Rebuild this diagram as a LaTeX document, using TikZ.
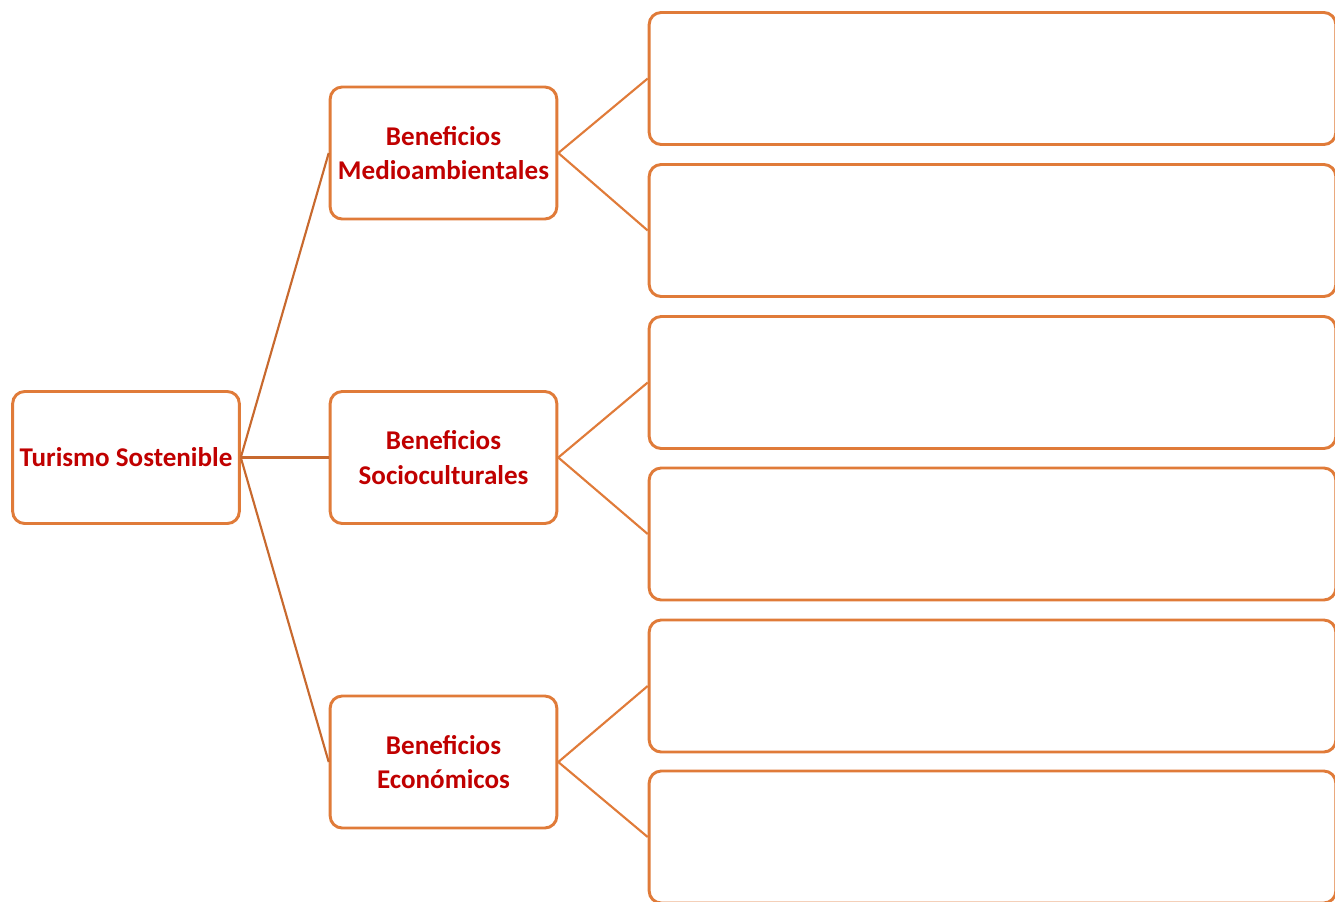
\documentclass[tikz,border=0pt]{standalone}
\usepackage{fontspec}
\setmainfont{Carlito}
\usepackage{tikz}
\usetikzlibrary{positioning}

\definecolor{boxorange}{HTML}{E07B39}
\definecolor{linkbrown}{HTML}{C8692E}
\definecolor{labelred}{HTML}{C00000}

\tikzset{
  benefitbox/.style={draw=boxorange,line width=2.2pt,rounded corners=9pt,fill=white,
    minimum width=170pt,minimum height=99pt,align=center,text=labelred,
    font=\fontsize{20.3}{26}\selectfont\bfseries,inner sep=1pt},
  detailbox/.style={draw=boxorange,line width=2.2pt,rounded corners=9pt,fill=white,
    minimum width=515pt,minimum height=99pt},
  link/.style={draw=boxorange,line width=1.6pt}
}

\begin{document}
\begin{tikzpicture}[x=0.75pt,y=-0.75pt]
\useasboundingbox (0,0) rectangle (1335,901);

% root and the three kinds of benefit
\node[benefitbox] (turismo) at (126,457.5) {Turismo Sostenible};
\node[benefitbox] (medio) at (443.5,153) {Beneficios\\Medioambientales};
\node[benefitbox] (socio) at (443.5,457.5) {Beneficios\\Socioculturales};
\node[benefitbox] (econ) at (443.5,762) {Beneficios\\Económicos};

% empty boxes on the right
\node[detailbox] (medioA) at (992.5,78.5) {};
\node[detailbox] (medioB) at (992.5,230.5) {};
\node[detailbox] (socioA) at (992.5,382.5) {};
\node[detailbox] (socioB) at (992.5,534) {};
\node[detailbox] (econA) at (992.5,686) {};
\node[detailbox] (econB) at (992.5,837) {};

\draw[link,draw=linkbrown] (turismo.east) -- (medio.west);
\draw[link,draw=linkbrown] (turismo.east) -- (socio.west);
\draw[link,draw=linkbrown] (turismo.east) -- (econ.west);

\foreach \g in {medio,socio,econ}{
  \draw[link] (\g.east) -- (\g A.west);
  \draw[link] (\g.east) -- (\g B.west);
}
\end{tikzpicture}
\end{document}
